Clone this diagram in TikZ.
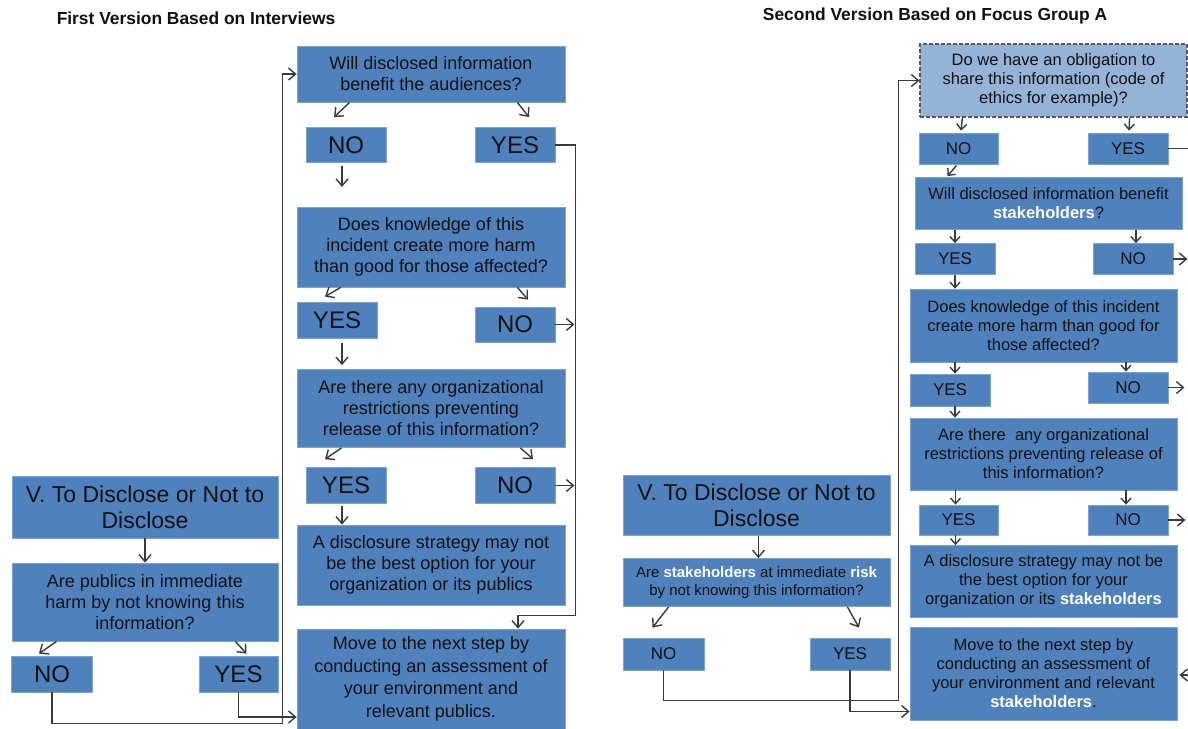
\documentclass[tikz,border=0pt]{standalone}
\usepackage{fontspec}
\setmainfont{Liberation Sans}
\usetikzlibrary{arrows.meta,calc}
\definecolor{boxblue}{HTML}{4F81BD}
\definecolor{paleblue}{HTML}{95B3D7}
\definecolor{boxedge}{HTML}{7BA3D6}
\definecolor{ink}{HTML}{111111}
\definecolor{wire}{HTML}{3A3A3A}
\newcommand\stk[1]{\textcolor{white}{\textbf{#1}}}
\tikzset{
  box/.style={draw=boxedge, fill=boxblue, line width=0.8, inner sep=0pt, align=center, text=ink},
  lq/.style={box, minimum width=268, font=\fontsize{18}{21}\selectfont},
  lyn/.style={box, minimum width=80, minimum height=35, font=\fontsize{24}{26}\selectfont},
  rq/.style={box, minimum width=267, font=\fontsize{16.5}{19}\selectfont},
  ryn/.style={box, minimum width=80, minimum height=31, font=\fontsize{17}{19}\selectfont},
  head/.style={box, minimum width=266, font=\fontsize{23}{26}\selectfont},
  title/.style={font=\fontsize{17.4}{20}\selectfont\bfseries, text=ink, inner sep=0pt},
  link/.style={draw=wire, line width=1.4},
  arr/.style={link, -{Straight Barb[length=7,width=12,line width=1.4]}},
  sarr/.style={link, -{Straight Barb[length=5.5,width=10,line width=1.4]}}
}
\begin{document}
\begin{tikzpicture}[x=1pt,y=-1pt]
\fill[white] (0,0) rectangle (1188,728);
\path[use as bounding box] (0,0) rectangle (1188,728);

% ---------- first version ----------
\node[title] (t1) at (196,18) {First Version Based on Interviews};

\node[lq, minimum height=56] (q1) at (431,74) {Will disclosed information\\benefit the audiences?};
\node[lyn] (no1) at (346,145) {NO};
\node[lyn] (yes1) at (515,145) {YES};
\node[lq, minimum height=80] (q2) at (431,247) {Does knowledge of this\\incident create more harm\\than good for those affected?};
\node[lyn, minimum height=36] (yes2) at (337,320) {YES};
\node[lyn] (no2) at (515,324.5) {NO};
\node[lq, minimum height=78] (q3) at (431,408.5) {Are there any organizational\\restrictions preventing\\release of this information?};
\node[lyn, minimum height=36] (yes3) at (346,485.5) {YES};
\node[lyn, minimum height=36] (no3) at (515,485.5) {NO};
\node[lq, minimum height=80] (strat) at (431,565) {A disclosure strategy may not\\be the best option for your\\organization or its publics};
\node[lq, minimum height=100, font=\fontsize{18}{22.5}\selectfont] (move) at (431,679) {Move to the next step by\\conducting an assessment of\\your environment and\\relevant publics.};

\node[head, minimum height=62] (v) at (145,507) {V. To Disclose or Not to\\Disclose};
\node[lq, minimum width=266, minimum height=78] (pub) at (145,602) {Are publics in immediate\\harm by not knowing this\\information?};
\node[lyn, minimum width=81, minimum height=36] (no4) at (52,674) {NO};
\node[lyn, minimum width=79, minimum height=36] (yes4) at (238.5,674) {YES};

\draw[arr] ([xshift=53]q1.south west) -- ([xshift=-12,yshift=10]no1.north);
\draw[arr] ([xshift=-48]q1.south east) -- ([xshift=14,yshift=10]yes1.north);
\draw[arr] ([xshift=-4,yshift=-3]no1.south) -- ++(0,21);
\draw[arr] ([xshift=44]q2.south west) -- ([xshift=-12,yshift=5]yes2.north);
\draw[arr] ([xshift=-48]q2.south east) -- ([xshift=13,yshift=7]no2.north);
\draw[arr] (no2.east) -- ++(19,0);
\draw[arr] ([xshift=5,yshift=-5]yes2.south) -- ([xshift=-89,yshift=4]q3.north);
\draw[arr] ([xshift=45]q3.south west) -- ([xshift=-21,yshift=8]yes3.north);
\draw[arr] ([xshift=-45]q3.south east) -- ([xshift=18,yshift=8]no3.north);
\draw[arr] (no3.east) -- ++(19,0);
\draw[arr] ([xshift=-4,yshift=-2]yes3.south) -- ([xshift=-89]strat.north);
\draw[arr] (yes1.east) -- ([xshift=10]strat.east |- yes1.east) -- ([xshift=10,yshift=-10]strat.south east) -| ([xshift=87]move.north);
\draw[arr] (v.south) -- (pub.north);
\draw[arr] ([xshift=45]pub.south west) -- ([xshift=-13,yshift=2]no4.north);
\draw[arr] ([xshift=-43]pub.south east) -- ([xshift=8,yshift=2]yes4.north);
\draw[arr] (no4.south) -- ++(0,31) -| ([xshift=-14]q1.west) -- (q1.west);
\draw[arr] (yes4.south) |- ([yshift=-38]move.west);

% ---------- second version ----------
\node[title] (t2) at (935,16) {Second Version Based on Focus Group A};

\node[rq, minimum height=73, fill=paleblue, draw=wire!85, dash pattern=on 4pt off 2pt, line width=1.2] (obl) at (1053.5,80.5) {Do we have an obligation to\\share this information (code of\\ethics for example)?};
\node[ryn, minimum width=79] (no5) at (958.5,148.5) {NO};
\node[ryn] (yes5) at (1128,148.5) {YES};
\node[rq, minimum height=52] (q5) at (1048.5,203.5) {Will disclosed information benefit\\\stk{stakeholders}?};
\node[ryn] (yes6) at (955,259) {YES};
\node[ryn] (no6) at (1133,259) {NO};
\node[rq, minimum height=73] (q6) at (1043.5,325.5) {Does knowledge of this incident\\create more harm than good for\\those affected?};
\node[ryn, minimum height=32] (yes7) at (950,390) {YES};
\node[ryn] (no7) at (1128,387.5) {NO};
\node[rq, minimum height=72] (q7) at (1043.5,454) {Are there\ \ any organizational\\restrictions preventing release of\\this information?};
\node[ryn, minimum width=79, minimum height=30] (yes8) at (958.5,520) {YES};
\node[ryn, minimum height=30] (no8) at (1128,520) {NO};
\node[rq, minimum height=72] (strat2) at (1043.5,581.5) {A disclosure strategy may not be\\the best option for your\\organization or its \stk{stakeholders}};
\node[rq, minimum height=93] (move2) at (1043.5,673.5) {Move to the next step by\\conducting an assessment of\\your environment and relevant\\\stk{stakeholders}.};

\node[head, minimum width=267, minimum height=60] (v2) at (756.5,505.5) {V. To Disclose or Not to\\Disclose};
\node[rq, minimum height=48, font=\fontsize{15}{18}\selectfont] (pub2) at (756.5,582.5) {Are \stk{stakeholders} at immediate \stk{risk}\\by not knowing this information?};
\node[ryn, minimum width=81, minimum height=32] (no9) at (663.5,654) {NO};
\node[ryn, minimum height=32] (yes9) at (850,654) {YES};

\draw[sarr] ([xshift=43]obl.south west) -- ([xshift=2.5,yshift=2]no5.north);
\draw[sarr] ([xshift=-58]obl.south east) -- ([xshift=1,yshift=2]yes5.north);
\draw[link] (yes5.east) -- ++(22,0);
\draw[sarr] ([xshift=-2,yshift=-1]no5.south) -- ([xshift=-101,yshift=1]q5.north);
\draw[sarr] (q5.south -| yes6.north) -- (yes6.north);
\draw[sarr] ([xshift=3]q5.south -| no6.north) -- ([xshift=3]no6.north);
\draw[arr] (no6.east) -- ++(14,0);
\draw[sarr] (yes6.south) -- (q6.north -| yes6.south);
\draw[sarr] ([xshift=5]q6.south -| yes7.north) -- ([xshift=5]yes7.north);
\draw[sarr] ([xshift=-2]q6.south -| no7.north) -- ([xshift=-2]no7.north);
\draw[arr] (no7.east) -- ++(16,0);
\draw[sarr] ([xshift=5]yes7.south) -- ([xshift=5]q7.north -| yes7.south);
\draw[sarr] ([xshift=-3]q7.south -| yes8.north) -- ([xshift=-3]yes8.north);
\draw[sarr] ([xshift=-2]q7.south -| no8.north) -- ([xshift=-2]no8.north);
\draw[arr] (no8.east) -- ++(17,0);
\draw[sarr] ([xshift=-3]yes8.south) -- ([xshift=-3]strat2.north -| yes8.south);
\draw[arr] ([xshift=14,yshift=-1.5]move2.east) -- ([xshift=2,yshift=-1.5]move2.east);
\draw[arr] ([xshift=2]v2.south) -- ([xshift=2]pub2.north);
\draw[arr] ([xshift=46]pub2.south west) -- ([xshift=-11,yshift=10]no9.north);
\draw[arr] ([xshift=-43]pub2.south east) -- ([xshift=9,yshift=10]yes9.north);
\draw[arr] (no9.south) -- ++(0,30) -| ([xshift=-21]obl.west) -- (obl.west);
\draw[arr] (yes9.south) |- ([yshift=-38]move2.west);
\end{tikzpicture}
\end{document}
